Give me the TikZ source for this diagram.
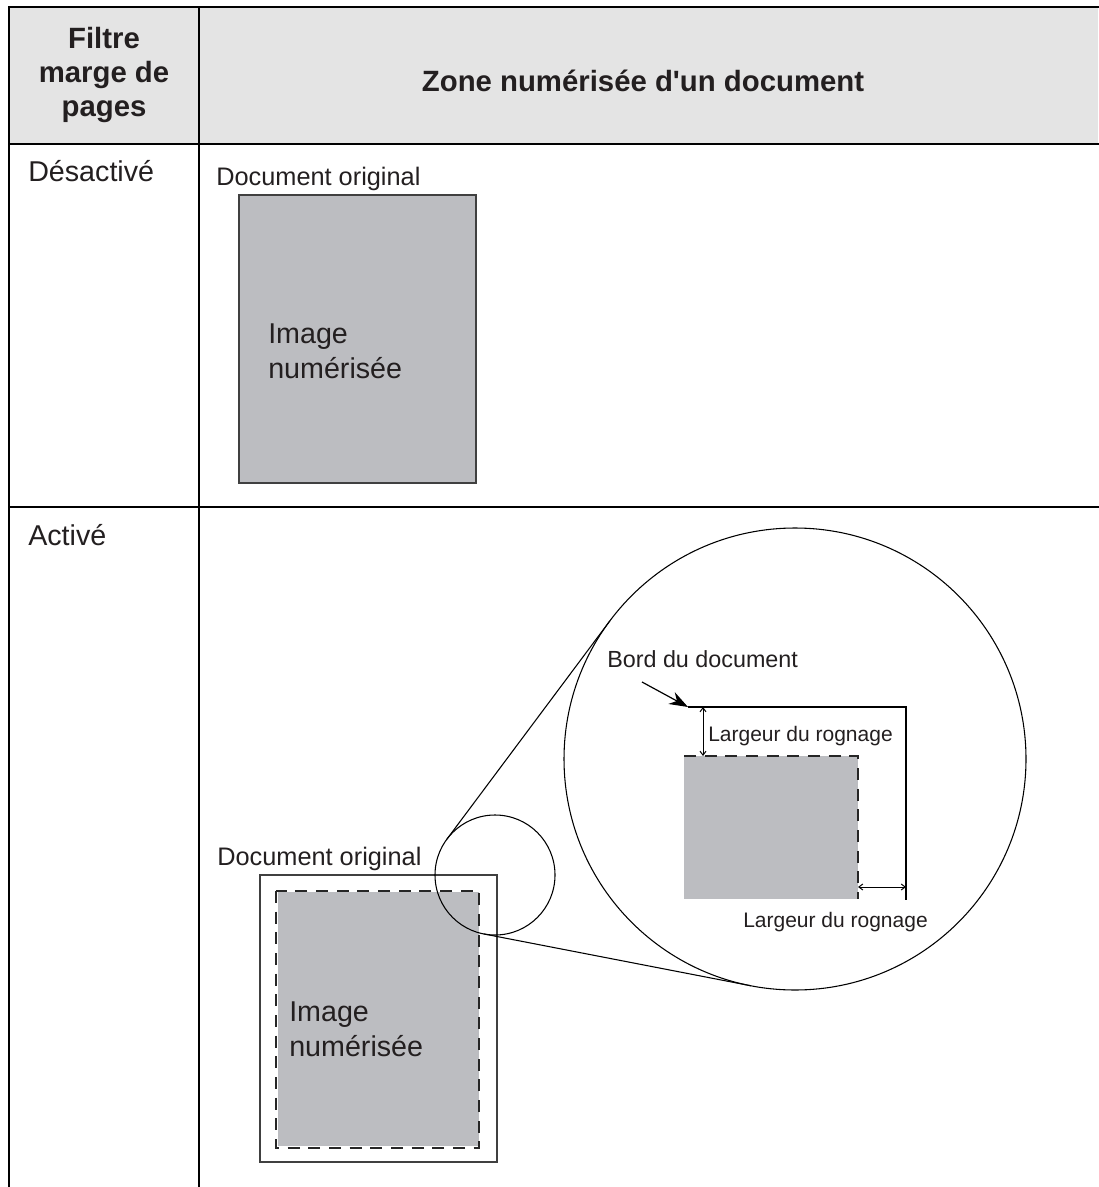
\documentclass[tikz,border=0pt]{standalone}
\usepackage{fontspec}
\setmainfont{Liberation Sans}[Ligatures=TeXOff]
\usepackage{tikz}
\usetikzlibrary{arrows.meta, calc}
\usepackage{xcolor}

\definecolor{scanGray}{HTML}{BCBDC1}
\definecolor{headGray}{HTML}{E4E4E4}
\definecolor{inkBlack}{HTML}{231F20}

\begin{document}
\begin{tikzpicture}[
    x=0.75pt, y=-0.75pt,
    % 表格线与文字样式
    grid/.style={line width=1.5pt, black, line cap=rect},
    hdr/.style={font=\fontsize{22}{25.5}\selectfont\bfseries, align=center, text=inkBlack, inner sep=0pt},
    rowlbl/.style={font=\fontsize{21.5}{26}\selectfont, anchor=base west, inner sep=0pt, text=inkBlack},
    origlbl/.style={font=\fontsize{19}{22}\selectfont, anchor=base west, inner sep=0pt, text=inkBlack},
    imglbl/.style={font=\fontsize{21.5}{26.25}\selectfont, align=left, anchor=base west, inner sep=0pt, text=inkBlack},
    dimlbl/.style={font=\fontsize{15.75}{18}\selectfont, anchor=base west, inner sep=0pt, text=inkBlack},
    % 页面、裁切线与放大圈
    page/.style={draw=black!75, line width=0.8pt},
    cut/.style={dash pattern=on 9pt off 6.5pt, line width=1pt, black!85},
    zoomline/.style={line width=0.8pt, black},
    dim/.style={{Straight Barb[length=3pt, width=4.5pt]}-{Straight Barb[length=3pt, width=4.5pt]}, line width=0.75pt},
    ptr/.style={-{Stealth[length=14pt, width=10pt]}, line width=0.9pt},
]

\useasboundingbox (0,0) rectangle (1098,1187);

% ==================== 1. 表格网格 ====================
\def\xL{9}
\def\xM{199}
\def\xR{1098}
\def\yT{7}
\def\yH{144}
\def\yR{507}
\def\yB{1187}

\fill[headGray] (\xL,\yT) rectangle (\xR,\yH);
\draw[grid] (\xR,\yT) -- (\xL,\yT) -- (\xL,\yB);
\draw[grid] (\xM,\yT) -- (\xM,\yB);
\draw[grid] (\xL,\yH) -- (\xR,\yH);
\draw[grid] (\xL,\yR) -- (\xR,\yR);

% ==================== 2. 表头 ====================
% 多行节点的 base 取最后一行基线
\node[hdr, anchor=base] (hdr_filtre) at (104, 117) {Filtre\\marge de\\pages};
\node[hdr, anchor=base] (hdr_zone)   at (643, 92) {Zone numérisée d'un document};

% ==================== 3. 行: Désactivé ====================
\node[rowlbl] (off_lbl) at (28, 182) {Désactivé};
\node[origlbl] (off_orig) at (216, 186) {Document original};

\filldraw[fill=scanGray, page] (239,195) rectangle (476,483);
\node[imglbl] (off_img) at (268, 378) {Image\\numérisée};

% ==================== 4. 行: Activé ====================
\node[rowlbl] (on_lbl) at (28, 545) {Activé};
\node[origlbl] (on_orig) at (217, 865) {Document original};

% 原稿外框 + 扫描区域 (虚线为裁切边界)
\draw[page] (260,875) rectangle (497,1162);
\fill[scanGray] (278,892) rectangle (479,1146);
\draw[cut] (276,891) rectangle (479,1148);
\node[imglbl] (on_img) at (289, 1056) {Image\\numérisée};

% ==================== 5. 放大圈与切线 ====================
\coordinate (c_small) at (495, 875);
\coordinate (c_big)   at (795, 759);

\draw[zoomline] (c_small) circle[radius=45pt];
\draw[zoomline] (c_big) circle[radius=173.25pt];

% 两圆外公切线
\draw[zoomline] ($(c_small)+(-143.26:60)$) -- ($(c_big)+(-143.26:231)$);
\draw[zoomline] ($(c_small)+(100.98:60)$)  -- ($(c_big)+(100.98:231)$);

% ==================== 6. 放大后的角部细节 ====================
\fill[scanGray] (684,756) rectangle (858,899);
\draw[cut] (684,756) -- (858,756) -- (858,899);

% 原稿边缘 (粗线)
\coordinate (edge_tl) at (688, 707);
\coordinate (edge_tr) at (906, 707);
\coordinate (edge_br) at (906, 900);
\draw[line width=1.75pt] (edge_tl) -- (edge_tr) -- (edge_br);

\node[dimlbl, font=\fontsize{17.5}{20}\selectfont] (bord_lbl) at (607, 667) {Bord du document};
\coordinate (bord_tail) at (642, 682);
\draw[ptr] (bord_tail) -- (edge_tl);

% 裁切宽度标注
\coordinate (cut_top) at (703, 756);
\draw[dim] (edge_tl -| cut_top) -- (cut_top);
\node[dimlbl] (dim_top_lbl) at (708, 741) {Largeur du rognage};

\coordinate (cut_right) at (858, 887);
\draw[dim] (cut_right) -- (cut_right -| edge_tr);
\node[dimlbl] (dim_right_lbl) at (743, 927) {Largeur du rognage};

\end{tikzpicture}
\end{document}
